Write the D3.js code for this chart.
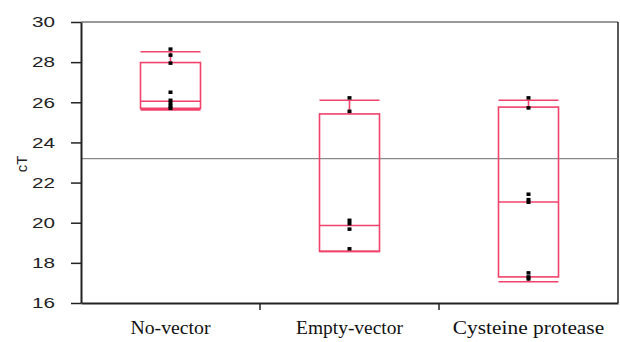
<!DOCTYPE html>
<html>
<head>
<meta charset="utf-8">
<script src="https://cdn.jsdelivr.net/npm/d3@7/dist/d3.min.js"></script>
<style>
  html, body { margin: 0; padding: 0; background: #fff; }
  svg { display: block; }
</style>
</head>
<body>
<svg id="chart" width="620" height="342"></svg>
<script>
// Groups on the x axis
const categories = ["No-vector", "Empty-vector", "Cysteine protease"];

// Individual cT readings per group
const pointsNoVector = [28.65, 28.35, 27.95, 26.5, 26.1, 25.95, 25.8, 25.7];
const pointsEmptyVector = [26.22, 25.55, 20.12, 19.95, 19.68, 18.7];
const pointsCysteine = [26.22, 25.72, 21.42, 21.15, 21.02, 17.5, 17.3, 17.2];

// Box summaries per group: whisker ends, quartiles and median
const boxMin = [25.62, 18.57, 17.06];
const boxQ1 = [25.7, 18.57, 17.3];
const boxMedian = [26.05, 19.86, 21.03];
const boxQ3 = [27.98, 25.42, 25.76];
const boxMax = [28.52, 26.1, 26.1];

// Overall mean reference line
const grandMean = 23.19;

// Y axis ticks
const yTicks = [16, 18, 20, 22, 24, 26, 28, 30];

const groupPoints = [pointsNoVector, pointsEmptyVector, pointsCysteine];

const svg = d3.select("#chart");
const margin = { left: 81, right: 2, top: 22, bottom: 39 };
const W = 620, H = 342;

const x = d3.scaleBand().domain(categories).range([margin.left, W - margin.right]);
const y = d3.scaleLinear().domain([16, 30]).range([H - margin.bottom, margin.top]);

const boxW = 60;
const pink = "#f0426a";

// frame: top (light) and right (dark)
svg.append("line")
  .attr("x1", margin.left).attr("x2", W - margin.right)
  .attr("y1", y(30)).attr("y2", y(30))
  .attr("stroke", "#777").attr("stroke-width", 1.5);
svg.append("line")
  .attr("x1", W - margin.right).attr("x2", W - margin.right)
  .attr("y1", y(30)).attr("y2", y(16))
  .attr("stroke", "#222").attr("stroke-width", 1.5);

// mean line
svg.append("line")
  .attr("x1", margin.left).attr("x2", W - margin.right)
  .attr("y1", y(grandMean)).attr("y2", y(grandMean))
  .attr("stroke", "#8a8a8a").attr("stroke-width", 1.2);

// Boxes
categories.forEach((c, i) => {
  const cx = x(c) + x.bandwidth() / 2;
  const g = svg.append("g").attr("fill", "none").attr("stroke", pink).attr("stroke-width", 1.6);
  // whiskers
  g.append("line").attr("x1", cx).attr("x2", cx).attr("y1", y(boxQ3[i])).attr("y2", y(boxMax[i]));
  g.append("line").attr("x1", cx).attr("x2", cx).attr("y1", y(boxQ1[i])).attr("y2", y(boxMin[i]));
  // caps
  g.append("line").attr("x1", cx - boxW / 2).attr("x2", cx + boxW / 2)
    .attr("y1", y(boxMax[i])).attr("y2", y(boxMax[i]));
  g.append("line").attr("x1", cx - boxW / 2).attr("x2", cx + boxW / 2)
    .attr("y1", y(boxMin[i])).attr("y2", y(boxMin[i]));
  // box
  g.append("rect")
    .attr("x", cx - boxW / 2).attr("width", boxW)
    .attr("y", y(boxQ3[i])).attr("height", y(boxQ1[i]) - y(boxQ3[i]));
  // median
  g.append("line").attr("x1", cx - boxW / 2).attr("x2", cx + boxW / 2)
    .attr("y1", y(boxMedian[i])).attr("y2", y(boxMedian[i]));

  // points
  svg.append("g").selectAll("rect")
    .data(groupPoints[i])
    .join("rect")
    .attr("x", cx - 2).attr("width", 4)
    .attr("y", d => y(d) - 1.75).attr("height", 3.5)
    .attr("fill", "#000");
});

// Y axis
const yAxis = svg.append("g")
  .attr("transform", `translate(${margin.left},0)`)
  .call(d3.axisLeft(y).tickValues(yTicks).tickSize(10).tickPadding(16).tickSizeOuter(0));
yAxis.select(".domain").attr("stroke", "#222").attr("stroke-width", 2);
yAxis.selectAll(".tick line").attr("stroke", "#222").attr("stroke-width", 1.5);
// labels are drawn slightly wide
yAxis.selectAll(".tick text")
  .attr("font-family", "Liberation Sans, Arial, sans-serif")
  .attr("font-size", 15).attr("fill", "#222")
  .attr("text-anchor", "end")
  .attr("textLength", 23).attr("lengthAdjust", "spacingAndGlyphs");

// X axis
const xAxis = svg.append("g")
  .attr("transform", `translate(0,${H - margin.bottom})`)
  .call(d3.axisBottom(x).tickSize(0).tickSizeOuter(0));
xAxis.select(".domain").attr("stroke", "#222").attr("stroke-width", 2);
xAxis.selectAll(".tick text")
  .attr("font-family", "Liberation Serif, Times New Roman, serif")
  .attr("font-size", 18).attr("fill", "#111")
  .attr("y", 31).attr("dy", null)
  .attr("textLength", d => d.length * 8.9).attr("lengthAdjust", "spacingAndGlyphs");

// category separators on the x axis
xAxis.selectAll(".sep")
  .data(categories.slice(1))
  .join("line")
  .attr("class", "sep")
  .attr("x1", d => x(d)).attr("x2", d => x(d))
  .attr("y1", 0).attr("y2", 7)
  .attr("stroke", "#222").attr("stroke-width", 1.5);

// Y axis title
svg.append("text")
  .attr("transform", `translate(27,164) rotate(-90)`)
  .attr("text-anchor", "middle")
  .attr("font-family", "Liberation Sans, Arial, sans-serif")
  .attr("font-size", 15).attr("fill", "#222")
  .text("cT");
</script>
</body>
</html>
